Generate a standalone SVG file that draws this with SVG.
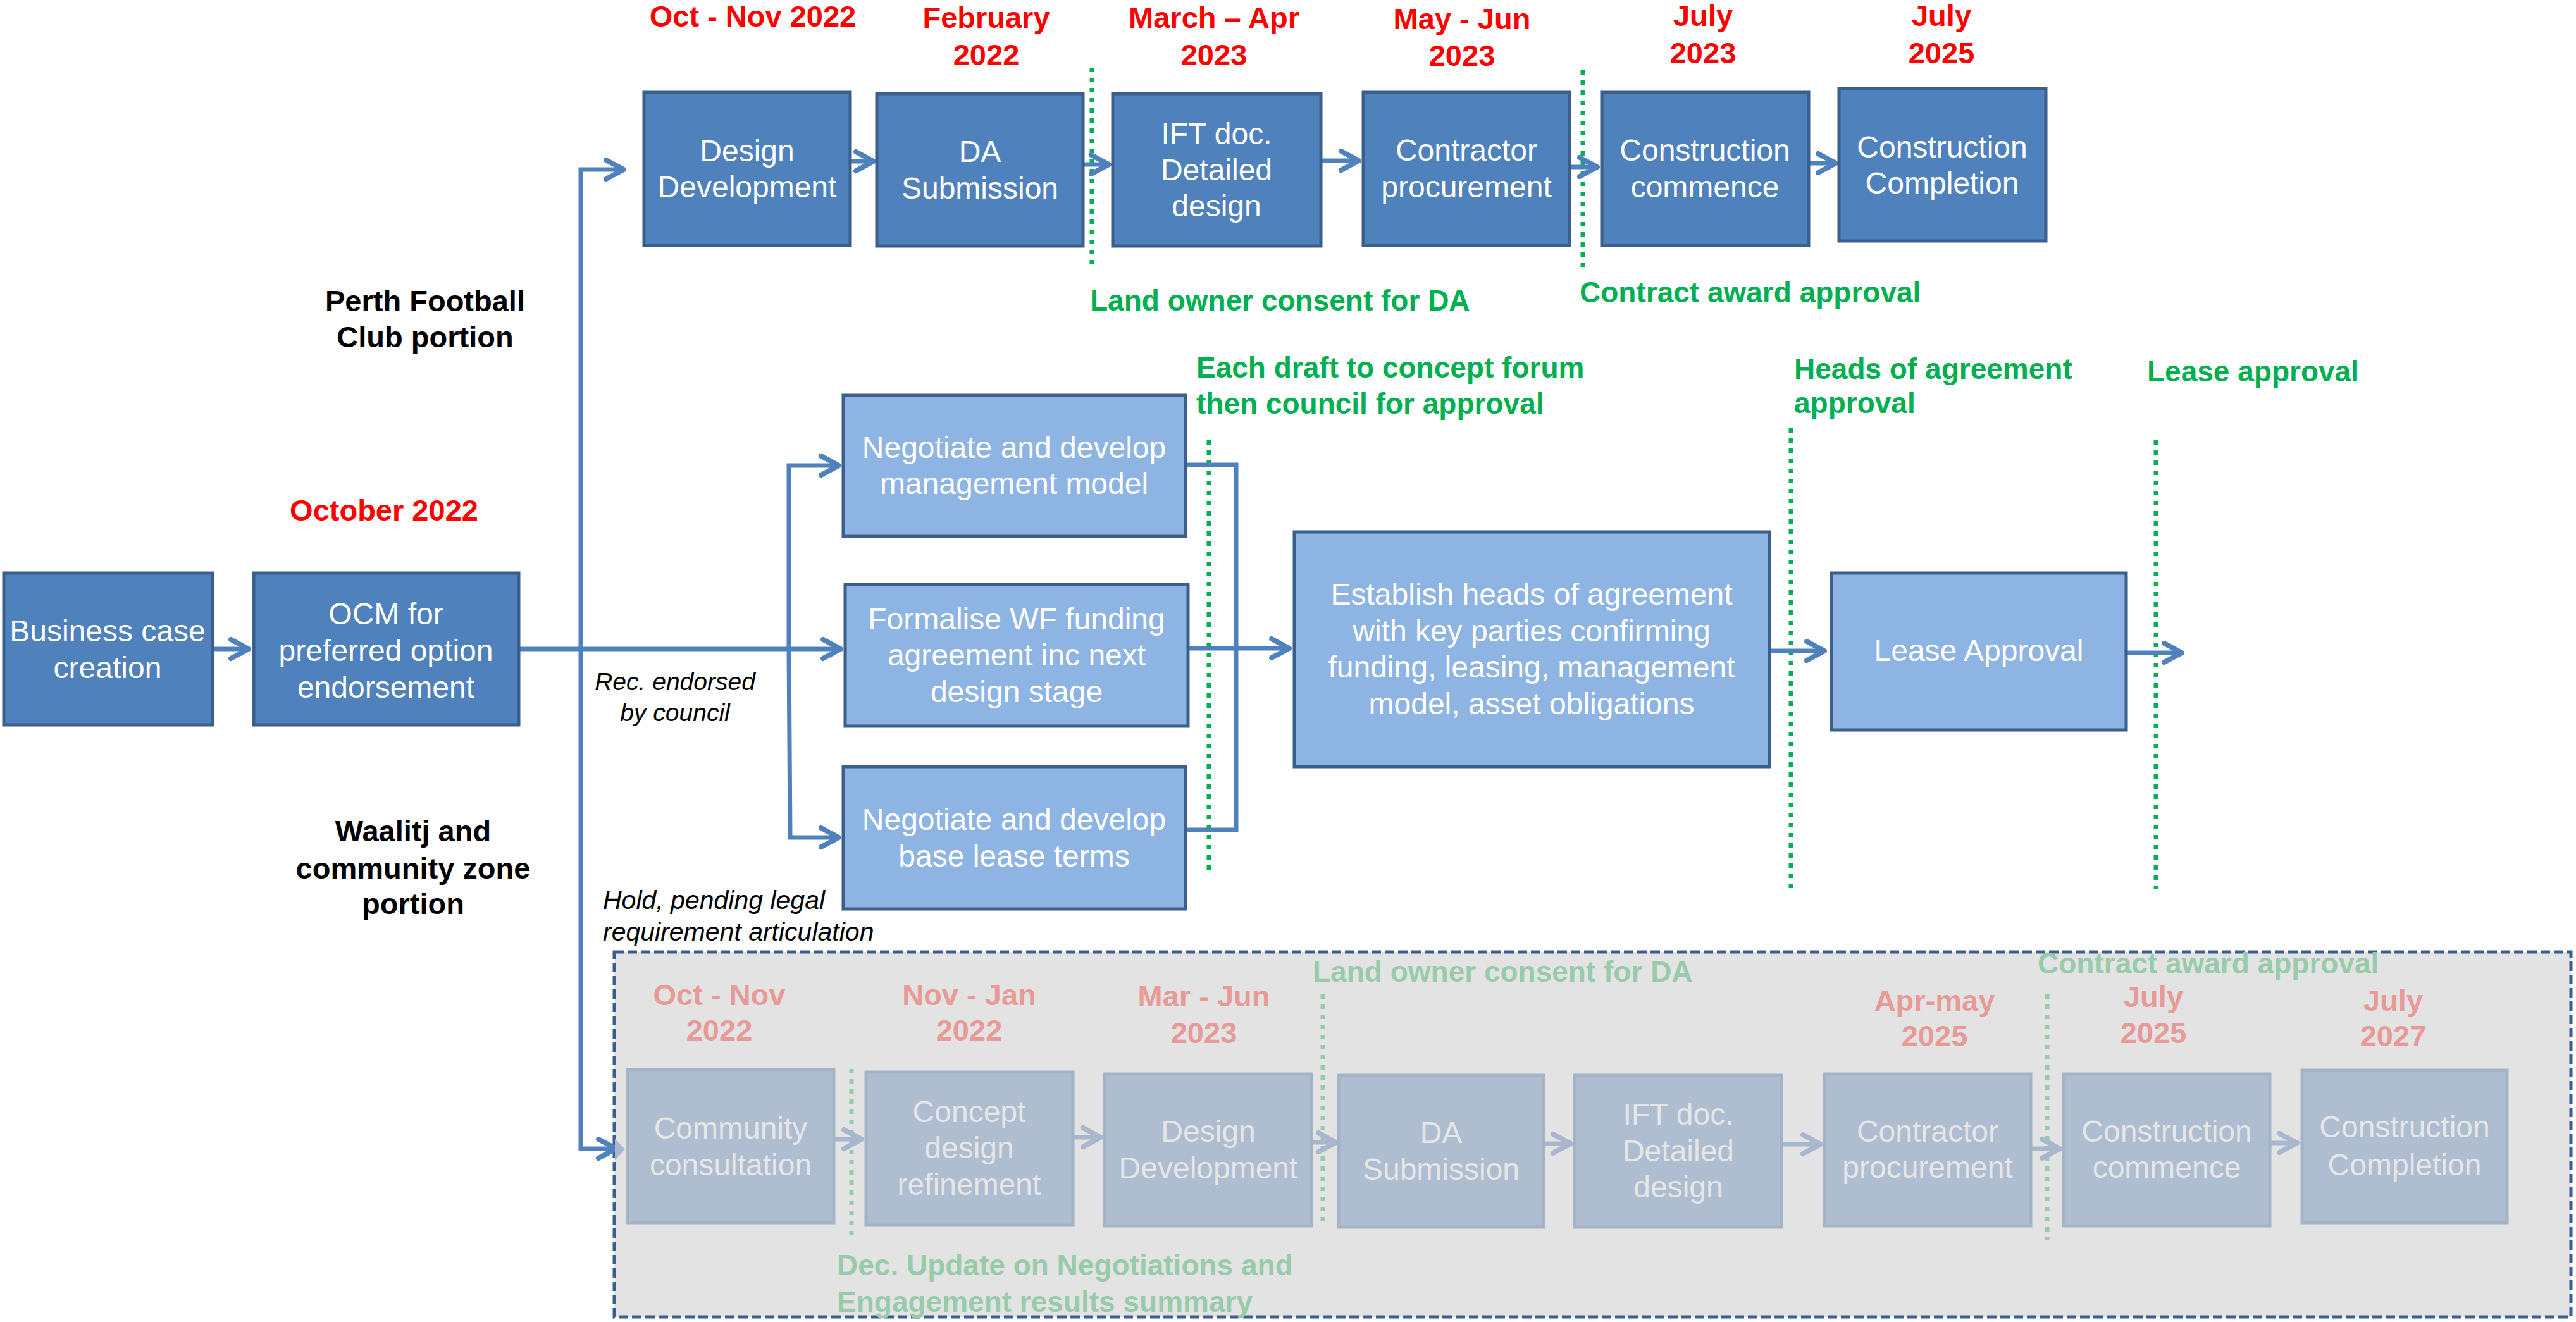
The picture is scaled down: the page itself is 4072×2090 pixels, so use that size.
<svg xmlns="http://www.w3.org/2000/svg" width="4072" height="2090" viewBox="0 0 4072 2090">
<style>
text{font-family:"Liberation Sans",Arial,sans-serif}
.dk{fill:#4f81bd;stroke:#3a5f8b;stroke-width:5}
.lt{fill:#8eb4e3;stroke:#3a5f8b;stroke-width:5}
.fd{fill:#afbdd1;stroke:#a5b3c6;stroke-width:5}
.bt{fill:#ffffff;font-size:48px;text-anchor:middle}
.ft{fill:#e6e6e6;font-size:48px;text-anchor:middle}
.red{fill:#ff0000;font-size:47px;font-weight:bold;text-anchor:middle}
.fred{fill:#e89a97;font-size:47px;font-weight:bold;text-anchor:middle}
.grn{fill:#00b050;font-size:46px;font-weight:bold}
.fgrn{fill:#97cba9;font-size:46px;font-weight:bold}
.blk{fill:#000000;font-size:47px;font-weight:bold;text-anchor:middle}
.it{fill:#000000;font-size:39px;font-style:italic}
.cn{fill:none;stroke:#4f81bd;stroke-width:7;stroke-linecap:butt;stroke-linejoin:miter}
.ca{fill:none;stroke:#4f81bd;stroke-width:7;marker-end:url(#ah)}
.fa{fill:none;stroke:#a8b7ce;stroke-width:7;marker-end:url(#fah)}
.dot{fill:none;stroke:#00b050;stroke-width:7;stroke-dasharray:7 9}
.fdot{fill:none;stroke:#97cba9;stroke-width:7;stroke-dasharray:7 9}
</style>
<defs>
<marker id="ah" markerUnits="userSpaceOnUse" viewBox="-40 -24 48 48" refX="0" refY="0" markerWidth="48" markerHeight="48" orient="auto" overflow="visible">
<path d="M-28,-15 L0,0 L-28,15" fill="none" stroke="#4f81bd" stroke-width="8" stroke-linecap="round" stroke-linejoin="round"/>
</marker>
<marker id="fah" markerUnits="userSpaceOnUse" viewBox="-40 -24 48 48" refX="0" refY="0" markerWidth="48" markerHeight="48" orient="auto" overflow="visible">
<path d="M-28,-15 L0,0 L-28,15" fill="none" stroke="#a8b7ce" stroke-width="8" stroke-linecap="round" stroke-linejoin="round"/>
</marker>
</defs>
<rect width="4072" height="2090" fill="#ffffff"/>

<g id="container">
<rect x="971" y="1505" width="3093" height="577" fill="#e3e3e3" stroke="#3b5e8c" stroke-width="5" stroke-dasharray="15 6"/>
</g>

<g id="milestones">
<line class="dot" x1="1726" y1="107" x2="1726" y2="419"/>
<line class="dot" x1="2502" y1="111" x2="2502" y2="423"/>
<line class="dot" x1="1911" y1="696" x2="1911" y2="1377"/>
<line class="dot" x1="2831" y1="677" x2="2831" y2="1405"/>
<line class="dot" x1="3408" y1="696" x2="3408" y2="1405"/>
<line class="fdot" x1="1346" y1="1690" x2="1346" y2="1953"/>
<line class="fdot" x1="2091" y1="1572" x2="2091" y2="1930"/>
<line class="fdot" x1="3236" y1="1572" x2="3236" y2="1960"/>
</g>

<g id="labels">
<text class="red" x="1190" y="42">Oct - Nov 2022</text>
<text class="red" x="1559"><tspan x="1559" y="44">February</tspan><tspan x="1559" y="103">2022</tspan></text>
<text class="red" x="1919"><tspan x="1919" y="44">March – Apr</tspan><tspan x="1919" y="103">2023</tspan></text>
<text class="red" x="2311"><tspan x="2311" y="46">May - Jun</tspan><tspan x="2311" y="104">2023</tspan></text>
<text class="red" x="2692"><tspan x="2692" y="41">July</tspan><tspan x="2692" y="100">2023</tspan></text>
<text class="red" x="3069"><tspan x="3069" y="41">July</tspan><tspan x="3069" y="100">2025</tspan></text>
<text class="red" x="607" y="823">October 2022</text>
<text class="grn" x="1723" y="491">Land owner consent for DA</text>
<text class="grn" x="2497" y="478">Contract award approval</text>
<text class="grn"><tspan x="1891" y="597">Each draft to concept forum</tspan><tspan x="1891" y="654">then council for approval</tspan></text>
<text class="grn"><tspan x="2836" y="599">Heads of agreement</tspan><tspan x="2836" y="653">approval</tspan></text>
<text class="grn" x="3394" y="603">Lease approval</text>
<text class="blk"><tspan x="672" y="492">Perth Football</tspan><tspan x="672" y="549">Club portion</tspan></text>
<text class="blk"><tspan x="653" y="1330">Waalitj and</tspan><tspan x="653" y="1389">community zone</tspan><tspan x="653" y="1445">portion</tspan></text>
<text class="it" text-anchor="middle"><tspan x="1067" y="1091">Rec. endorsed</tspan><tspan x="1067" y="1140">by council</tspan></text>
<text class="it" style="font-size:41px"><tspan x="953" y="1437">Hold, pending legal</tspan><tspan x="953" y="1487">requirement articulation</tspan></text>
<text class="fred"><tspan x="1137" y="1589">Oct - Nov</tspan><tspan x="1137" y="1645">2022</tspan></text>
<text class="fred"><tspan x="1532" y="1589">Nov - Jan</tspan><tspan x="1532" y="1645">2022</tspan></text>
<text class="fred"><tspan x="1903" y="1591">Mar - Jun</tspan><tspan x="1903" y="1649">2023</tspan></text>
<text class="fred"><tspan x="3058" y="1598">Apr-may</tspan><tspan x="3058" y="1654">2025</tspan></text>
<text class="fred"><tspan x="3404" y="1592">July</tspan><tspan x="3404" y="1649">2025</tspan></text>
<text class="fred"><tspan x="3783" y="1598">July</tspan><tspan x="3783" y="1654">2027</tspan></text>
<text class="fgrn" x="2075" y="1552">Land owner consent for DA</text>
<text class="fgrn" x="3221" y="1539">Contract award approval</text>
<text class="fgrn"><tspan x="1323" y="2016">Dec. Update on Negotiations and</tspan><tspan x="1323" y="2074">Engagement results summary</tspan></text>
</g>

<g id="connectors">
<polyline class="ca" points="918,1026 918,268 986,268"/>
<line class="ca" x1="1346" y1="255" x2="1381" y2="255"/>
<line class="ca" x1="1714" y1="260" x2="1753" y2="260"/>
<line class="ca" x1="2090" y1="254" x2="2148" y2="254"/>
<line class="ca" x1="2483" y1="264" x2="2525" y2="264"/>
<line class="ca" x1="2861" y1="258" x2="2902" y2="258"/>
<line class="ca" x1="338" y1="1026" x2="393" y2="1026"/>
<line class="ca" x1="822" y1="1026" x2="1329" y2="1026"/>
<polyline class="ca" points="1247,1026 1247,736 1326,736"/>
<polyline class="ca" points="1247,1026 1249,1324 1326,1324"/>
<polyline class="cn" points="1876,735 1954,735 1954,1312 1876,1312"/>
<line class="ca" x1="1880" y1="1025" x2="2038" y2="1025"/>
<line class="ca" x1="2799" y1="1029" x2="2884" y2="1029"/>
<line class="ca" x1="3363" y1="1032" x2="3449" y2="1032"/>
<polyline class="ca" points="918,1026 918,1816 974,1816"/>
<path d="M972,1800 L988,1817 L972,1834 Z" fill="#a8b7ce"/>
<line class="fa" x1="1320" y1="1801" x2="1362" y2="1801"/>
<line class="fa" x1="1698" y1="1798" x2="1740" y2="1798"/>
<line class="fa" x1="2075" y1="1806" x2="2112" y2="1806"/>
<line class="fa" x1="2442" y1="1808" x2="2483" y2="1808"/>
<line class="fa" x1="2818" y1="1809" x2="2878" y2="1809"/>
<line class="fa" x1="3212" y1="1816" x2="3256" y2="1816"/>
<line class="fa" x1="3590" y1="1807" x2="3631" y2="1807"/>
</g>

<g id="n-design-dev">
<rect class="dk" x="1018" y="146" width="326" height="242"/>
<text class="bt"><tspan x="1181" y="255">Design</tspan><tspan x="1181" y="312">Development</tspan></text>
</g>
<g id="n-da-sub">
<rect class="dk" x="1386" y="148" width="326" height="241"/>
<text class="bt"><tspan x="1549" y="256">DA</tspan><tspan x="1549" y="314">Submission</tspan></text>
</g>
<g id="n-ift">
<rect class="dk" x="1759" y="148" width="329" height="241"/>
<text class="bt"><tspan x="1923" y="228">IFT doc.</tspan><tspan x="1923" y="285">Detailed</tspan><tspan x="1923" y="342">design</tspan></text>
</g>
<g id="n-contractor">
<rect class="dk" x="2155" y="146" width="326" height="242"/>
<text class="bt"><tspan x="2318" y="254">Contractor</tspan><tspan x="2318" y="312">procurement</tspan></text>
</g>
<g id="n-commence">
<rect class="dk" x="2532" y="146" width="327" height="242"/>
<text class="bt"><tspan x="2695" y="254">Construction</tspan><tspan x="2695" y="312">commence</tspan></text>
</g>
<g id="n-completion">
<rect class="dk" x="2907" y="140" width="327" height="241"/>
<text class="bt"><tspan x="3070" y="249">Construction</tspan><tspan x="3070" y="306">Completion</tspan></text>
</g>

<g id="n-business-case">
<rect class="dk" x="6" y="906" width="330" height="240"/>
<text class="bt"><tspan x="170" y="1014">Business case</tspan><tspan x="170" y="1072">creation</tspan></text>
</g>
<g id="n-ocm">
<rect class="dk" x="401" y="906" width="419" height="240"/>
<text class="bt"><tspan x="610" y="987">OCM for</tspan><tspan x="610" y="1045">preferred option</tspan><tspan x="610" y="1103">endorsement</tspan></text>
</g>

<g id="n-neg-mgmt">
<rect class="lt" x="1333" y="625" width="541" height="223"/>
<text class="bt"><tspan x="1603" y="724">Negotiate and develop</tspan><tspan x="1603" y="781">management model</tspan></text>
</g>
<g id="n-formalise">
<rect class="lt" x="1336" y="924" width="542" height="224"/>
<text class="bt"><tspan x="1607" y="995">Formalise WF funding</tspan><tspan x="1607" y="1052">agreement inc next</tspan><tspan x="1607" y="1110">design stage</tspan></text>
</g>
<g id="n-neg-lease">
<rect class="lt" x="1333" y="1212" width="541" height="225"/>
<text class="bt"><tspan x="1603" y="1312">Negotiate and develop</tspan><tspan x="1603" y="1370">base lease terms</tspan></text>
</g>
<g id="n-establish">
<rect class="lt" x="2046" y="841" width="751" height="371"/>
<text class="bt"><tspan x="2421" y="956">Establish heads of agreement</tspan><tspan x="2421" y="1014">with key parties confirming</tspan><tspan x="2421" y="1071">funding, leasing, management</tspan><tspan x="2421" y="1129">model, asset obligations</tspan></text>
</g>
<g id="n-lease">
<rect class="lt" x="2895" y="906" width="466" height="248"/>
<text class="bt" x="3128" y="1045">Lease Approval</text>
</g>

<g id="n-f-community">
<rect class="fd" x="992" y="1691" width="326" height="242"/>
<text class="ft"><tspan x="1155" y="1800">Community</tspan><tspan x="1155" y="1858">consultation</tspan></text>
</g>
<g id="n-f-concept">
<rect class="fd" x="1369" y="1695" width="327" height="242"/>
<text class="ft"><tspan x="1532" y="1774">Concept</tspan><tspan x="1532" y="1831">design</tspan><tspan x="1532" y="1889">refinement</tspan></text>
</g>
<g id="n-f-design-dev">
<rect class="fd" x="1746" y="1698" width="327" height="240"/>
<text class="ft"><tspan x="1910" y="1805">Design</tspan><tspan x="1910" y="1863">Development</tspan></text>
</g>
<g id="n-f-da">
<rect class="fd" x="2116" y="1700" width="324" height="240"/>
<text class="ft"><tspan x="2278" y="1807">DA</tspan><tspan x="2278" y="1865">Submission</tspan></text>
</g>
<g id="n-f-ift">
<rect class="fd" x="2489" y="1700" width="327" height="240"/>
<text class="ft"><tspan x="2653" y="1778">IFT doc.</tspan><tspan x="2653" y="1836">Detailed</tspan><tspan x="2653" y="1893">design</tspan></text>
</g>
<g id="n-f-contractor">
<rect class="fd" x="2884" y="1698" width="326" height="240"/>
<text class="ft"><tspan x="3047" y="1805">Contractor</tspan><tspan x="3047" y="1862">procurement</tspan></text>
</g>
<g id="n-f-commence">
<rect class="fd" x="3262" y="1698" width="326" height="240"/>
<text class="ft"><tspan x="3425" y="1805">Construction</tspan><tspan x="3425" y="1862">commence</tspan></text>
</g>
<g id="n-f-completion">
<rect class="fd" x="3639" y="1692" width="324" height="241"/>
<text class="ft"><tspan x="3801" y="1798">Construction</tspan><tspan x="3801" y="1858">Completion</tspan></text>
</g>
</svg>
